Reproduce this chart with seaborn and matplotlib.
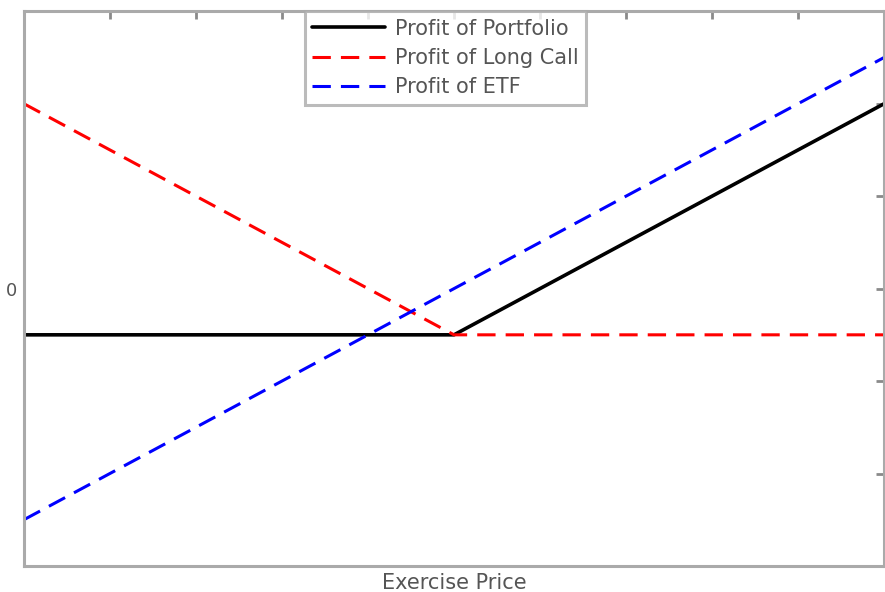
import pandas as pd
import seaborn as sns
import matplotlib
import matplotlib.pyplot as plt
matplotlib.use('Agg')

sns.set_style("white")
plt.rcParams['font.family'] = ['DejaVu Sans']

# exercise price axis (no numbers shown, 0..10 grid)
price = [0, 5, 10]
profit_portfolio = [-0.5, -0.5, 2.0]
profit_call = [2.0, -0.5, -0.5]
profit_etf = [-2.5, 0.0, 2.5]

df = pd.DataFrame({'price': price, 'portfolio': profit_portfolio,
                   'call': profit_call, 'etf': profit_etf})

fig = plt.figure(figsize=(8.85, 5.92), dpi=100)
ax = fig.add_axes([0.027, 0.044, 0.972, 0.937])

sns.lineplot(x='price', y='portfolio', data=df, ax=ax, color='black',
             linewidth=2.6, label='Profit of Portfolio')
sns.lineplot(x='price', y='call', data=df, ax=ax, color='#ff0000',
             linewidth=2.2, label='Profit of Long Call')
sns.lineplot(x='price', y='etf', data=df, ax=ax, color='#0000ff',
             linewidth=2.2, label='Profit of ETF')
for ln in ax.lines[1:3]:
    ln.set_dashes([6, 3.3])

ax.set_xlim(0, 10)
ax.set_ylim(-3, 3)
ax.set_xticks(range(0, 11))
ax.set_xticklabels([''] * 11)
ax.set_yticks(range(-3, 4))
ax.set_yticklabels(['', '', '', '0', '', '', ''])
ax.tick_params(direction='in', length=6, width=2, color='#8a8a8a',
               top=True, right=True, labelsize=13, labelcolor='#555555', pad=5)
for s in ax.spines.values():
    s.set_color('#aaaaaa')
    s.set_linewidth(2.2)

ax.set_xlabel('Exercise Price', fontsize=15, color='#555555', labelpad=0)
ax.set_ylabel('')

leg = ax.legend(loc='upper center', bbox_to_anchor=(0.49, 1.0), fontsize=15,
                frameon=True, fancybox=False, handlelength=3.5,
                handletextpad=0.45, borderpad=0.35, labelspacing=0.45,
                borderaxespad=0)
leg.get_frame().set_edgecolor('#aaaaaa')
leg.get_frame().set_linewidth(2.2)
for t in leg.get_texts():
    t.set_color('#555555')

fig.savefig('out.png', dpi=100)
